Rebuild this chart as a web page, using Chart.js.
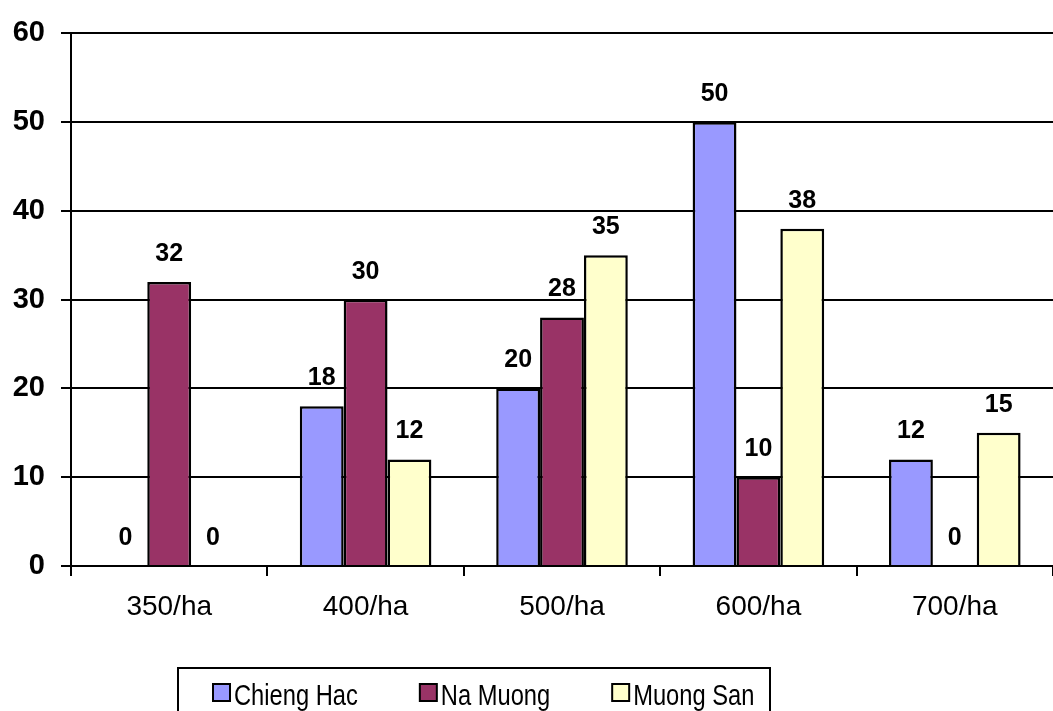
<!DOCTYPE html>
<html>
<head>
<meta charset="utf-8">
<script src="https://cdn.jsdelivr.net/npm/chart.js@4"></script>
<style>
  html, body { margin: 0; padding: 0; background: #fff; }
  #wrap { width: 1053px; height: 711px; }
</style>
</head>
<body>
<div id="wrap"><canvas id="c" width="1053" height="711"></canvas></div>
<script>
const categories = ['350/ha', '400/ha', '500/ha', '600/ha', '700/ha']
const chiengHac = [0, 18, 20, 50, 12]
const naMuong = [32, 30, 28, 10, 0]
const muongSan = [0, 12, 35, 38, 15]
const yTicks = [0, 10, 20, 30, 40, 50, 60]

const FONT = '"Liberation Sans", Arial, sans-serif'

// value labels over each bar
const barLabels = {
  id: 'barLabels',
  afterDatasetsDraw(chart) {
    const ctx = chart.ctx
    ctx.save()
    ctx.font = 'bold 25px ' + FONT
    ctx.fillStyle = '#000'
    ctx.textAlign = 'center'
    ctx.textBaseline = 'middle'
    chart.data.datasets.forEach((ds, i) => {
      chart.getDatasetMeta(i).data.forEach((bar, j) => {
        ctx.fillText(String(ds.data[j]), bar.x, bar.y - 28)
      })
    })
    ctx.restore()
  }
}

// boxed legend at the bottom, text a bit condensed like the original
const boxLegend = {
  id: 'boxLegend',
  afterDraw(chart) {
    const ctx = chart.ctx
    const sx = 0.79
    ctx.save()
    ctx.lineWidth = 2
    ctx.strokeStyle = '#000'
    ctx.strokeRect(178, 668, 592, 60)
    ctx.font = '30px ' + FONT
    ctx.textBaseline = 'alphabetic'
    let x = 213
    chart.data.datasets.forEach((ds) => {
      ctx.fillStyle = ds.backgroundColor
      ctx.fillRect(x, 684, 17, 17)
      ctx.strokeRect(x, 684, 17, 17)
      const tx = x + 21
      const w = ctx.measureText(ds.label).width * sx
      ctx.save()
      ctx.translate(tx, 705)
      ctx.scale(sx, 1)
      ctx.fillStyle = '#000'
      ctx.fillText(ds.label, 0, 0)
      ctx.restore()
      x = tx + w + 62
    })
    ctx.restore()
  }
}

const bgWhite = {
  id: 'bgWhite',
  beforeDraw(chart) {
    const ctx = chart.ctx
    ctx.save()
    ctx.fillStyle = '#fff'
    ctx.fillRect(0, 0, chart.width, chart.height)
    ctx.restore()
  }
}

new Chart(document.getElementById('c'), {
  type: 'bar',
  data: {
    labels: categories,
    datasets: [
      { label: 'Chieng Hac', data: chiengHac, backgroundColor: '#9999FF' },
      { label: 'Na Muong', data: naMuong, backgroundColor: '#993366' },
      { label: 'Muong San', data: muongSan, backgroundColor: '#FFFFCC' }
    ].map(d => Object.assign(d, { borderColor: '#000', borderWidth: 2.5, borderSkipped: 'start' }))
  },
  options: {
    responsive: false,
    animation: false,
    devicePixelRatio: 1,
    layout: { padding: { top: 29, right: 0, left: 0, bottom: 0 } },
    datasets: { bar: { categoryPercentage: 0.67, barPercentage: 1 } },
    plugins: { legend: { display: false }, tooltip: { enabled: false } },
    scales: {
      x: {
        afterFit(scale) { scale.height = 145 },
        grid: { offset: true, drawOnChartArea: false, drawTicks: true, tickLength: 10, color: '#000', lineWidth: 2 },
        border: { color: '#000', width: 2 },
        ticks: { color: '#000', padding: 14, font: { family: FONT, size: 28 } }
      },
      y: {
        min: 0,
        max: 60,
        afterFit(scale) { scale.width = 71 },
        afterBuildTicks(scale) { scale.ticks = yTicks.map(v => ({ value: v })) },
        grid: { color: '#000', lineWidth: 2, tickLength: 10 },
        border: { color: '#000', width: 2 },
        ticks: { color: '#000', padding: 16, font: { family: FONT, size: 29, weight: 'bold' } }
      }
    }
  },
  plugins: [bgWhite, barLabels, boxLegend]
})
</script>
</body>
</html>
